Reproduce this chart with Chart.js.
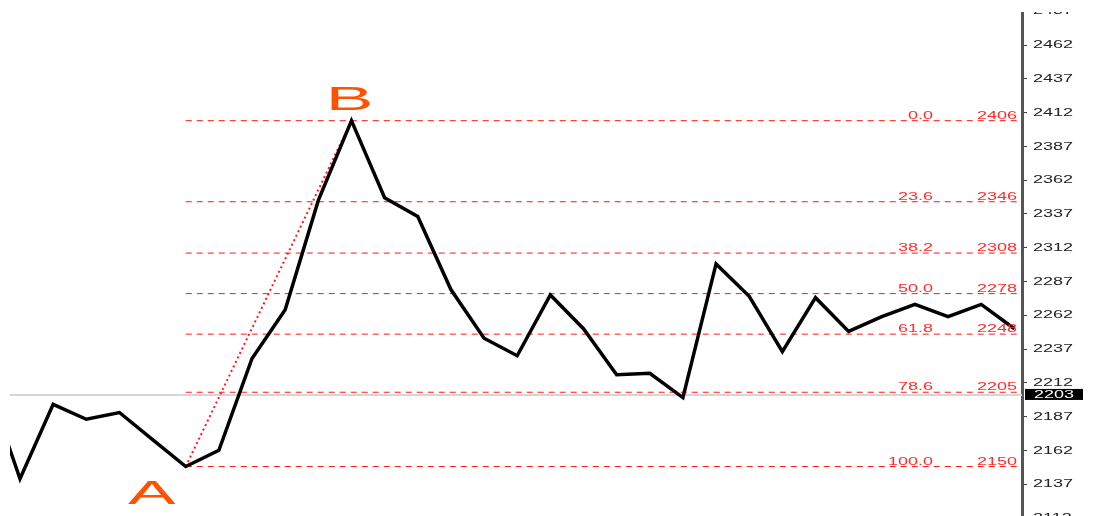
<!DOCTYPE html>
<html>
<head>
<meta charset="utf-8">
<script src="https://cdn.jsdelivr.net/npm/chart.js@4.4.1/dist/chart.umd.min.js"></script>
<style>
  html, body { margin: 0; padding: 0; background: #fff; overflow: hidden; }
  #wrap { width: 1093px; height: 516px; }
</style>
</head>
<body>
<div id="wrap"><canvas id="fibChart" width="1093" height="516"></canvas></div>
<script>
// price closes, first one sits just left of the visible area (bar index -1)
const prices = [2212, 2141, 2196, 2185, 2190, 2170, 2150, 2162, 2230, 2266, 2347, 2406,
                2349, 2335, 2281, 2245, 2232, 2277, 2252, 2218, 2219, 2201, 2300, 2276,
                2235, 2275, 2250, 2261, 2270, 2261, 2270, 2252];
const firstIndex = -1;

// swing points A -> B
const swingIdx = [5, 10];
const swingVal = [2150, 2406];
const swingNames = ['A', 'B'];

// fibonacci retracement levels
const fibRatios = ['0.0', '23.6', '38.2', '50.0', '61.8', '78.6', '100.0'];
const fibPrices = [2406, 2346, 2308, 2278, 2248, 2205, 2150];

// current price marker
const lastPrice = 2203;

// right axis labels
const yTicks = [2112, 2137, 2162, 2187, 2212, 2237, 2262, 2287, 2312, 2337, 2362, 2387, 2412, 2437, 2462, 2487];

// visible window
const xMin = -0.302, xMax = 30.23;
const yMin = 2113.4, yMax = 2485.7;

const pricePoints = prices.map((v, i) => ({ x: i + firstIndex, y: v }));

const fibSets = fibPrices.map(p => ({
  data: [{ x: swingIdx[0], y: p }, { x: xMax + 1, y: p }],
  borderColor: 'rgba(255,10,10,0.95)',
  borderWidth: 1,
  borderDash: [6, 5],
  pointRadius: 0,
  order: 3
}));

function stretchText(ctx, text, x, y, align, sx) {
  ctx.save();
  ctx.translate(x, y);
  ctx.scale(sx, 1);
  ctx.textAlign = align;
  ctx.fillText(text, 0, 0);
  ctx.restore();
}

const labelPlugin = {
  id: 'fibLabels',
  afterDraw(chart) {
    const ctx = chart.ctx;
    const xs = chart.scales.x, ys = chart.scales.y;
    const right = chart.chartArea.right;

    // axis labels (top one is cut by the window edge)
    ctx.save();
    ctx.beginPath();
    ctx.rect(0, 12, chart.width, chart.height);
    ctx.clip();
    ctx.font = '10px "Liberation Sans"';
    ctx.fillStyle = '#222';
    ctx.textBaseline = 'middle';
    yTicks.forEach(v => stretchText(ctx, String(v), right + 11, ys.getPixelForValue(v) + 0.5, 'left', 1.8));
    ctx.restore();

    // current price box
    const py = ys.getPixelForValue(lastPrice);
    ctx.save();
    ctx.fillStyle = '#000';
    ctx.fillRect(right + 3, py - 6, 58, 11);
    ctx.fillStyle = '#fff';
    ctx.font = '10px "Liberation Sans"';
    ctx.textBaseline = 'middle';
    stretchText(ctx, String(lastPrice), right + 12, py, 'left', 1.8);
    ctx.restore();

    // fib labels
    ctx.save();
    ctx.font = '10px "Liberation Sans"';
    ctx.fillStyle = '#ff2a2a';
    ctx.textBaseline = 'alphabetic';
    fibPrices.forEach((p, i) => {
      const y = ys.getPixelForValue(p) - 2;
      stretchText(ctx, fibRatios[i], right - 89, y, 'right', 1.8);
      stretchText(ctx, String(p), right - 5, y, 'right', 1.8);
    });
    ctx.restore();

    // A / B letters
    ctx.save();
    ctx.font = '34px "Liberation Sans"';
    ctx.fillStyle = '#ff5200';
    ctx.textBaseline = 'middle';
    const ax = xs.getPixelForValue(swingIdx[0]), ay = ys.getPixelForValue(swingVal[0]);
    const bx = xs.getPixelForValue(swingIdx[1]), by = ys.getPixelForValue(swingVal[1]);
    stretchText(ctx, swingNames[0], ax - 34, ay + 28, 'center', 2.1);
    stretchText(ctx, swingNames[1], bx - 2, by - 20, 'center', 2.1);
    ctx.restore();
  }
};

const ctx = document.getElementById('fibChart').getContext('2d');
new Chart(ctx, {
  type: 'line',
  data: {
    datasets: [
      {
        data: pricePoints,
        borderColor: '#000',
        borderWidth: 3.5,
        pointRadius: 0,
        tension: 0,
        order: 0
      },
      {
        data: swingIdx.map((x, i) => ({ x: x, y: swingVal[i] })),
        borderColor: '#ff1a1a',
        borderWidth: 2,
        borderDash: [2, 3],
        pointRadius: 0,
        order: 1
      },
      ...fibSets,
      {
        data: [{ x: xMin - 1, y: lastPrice }, { x: xMax + 1, y: lastPrice }],
        borderColor: '#d6d6d6',
        borderWidth: 2,
        pointRadius: 0,
        order: 5
      }
    ]
  },
  options: {
    responsive: false,
    animation: false,
    events: [],
    layout: { padding: { left: 10, top: 13, right: 0, bottom: 0 } },
    plugins: { legend: { display: false }, tooltip: { enabled: false } },
    scales: {
      x: { type: 'linear', display: false, min: xMin, max: xMax },
      y: {
        position: 'right',
        min: yMin,
        max: yMax,
        afterFit: s => { s.width = 71; },
        afterBuildTicks: s => {
          s.ticks = yTicks.filter(v => v >= s.min && v <= s.max).map(v => ({ value: v }));
        },
        ticks: { display: false },
        grid: { drawOnChartArea: false, tickLength: 5, color: '#444', lineWidth: 1 },
        border: { color: '#555', width: 3 }
      }
    }
  },
  plugins: [labelPlugin]
});
</script>
</body>
</html>
